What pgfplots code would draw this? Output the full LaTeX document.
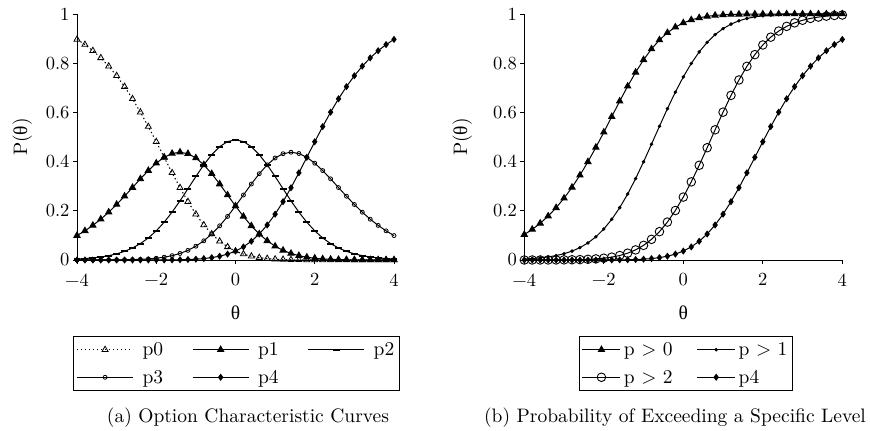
\documentclass[border=0pt]{standalone}
\usepackage{fontspec}
\setmainfont{lmroman10-regular.otf}
\newfontfamily\grk{Liberation Serif}
\usepackage{pgfplots}
\pgfplotsset{compat=1.18}
\usepackage{pgfplotstable}

\pgfplotstableread{
t p0 p1 p2 p3 p4 g0 g1 g2
-4.0 0.8966 0.0993 0.0041 0.0000 0.0000 0.1034 0.0041 0.0000
-3.8 0.8756 0.1185 0.0059 0.0001 0.0000 0.1244 0.0060 0.0001
-3.6 0.8507 0.1406 0.0086 0.0001 0.0000 0.1493 0.0087 0.0001
-3.4 0.8216 0.1659 0.0123 0.0002 0.0000 0.1784 0.0125 0.0002
-3.2 0.7878 0.1943 0.0176 0.0003 0.0000 0.2122 0.0180 0.0003
-3.0 0.7489 0.2256 0.0250 0.0006 0.0000 0.2511 0.0256 0.0006
-2.8 0.7047 0.2593 0.0351 0.0010 0.0000 0.2953 0.0361 0.0010
-2.6 0.6553 0.2944 0.0487 0.0016 0.0000 0.3447 0.0503 0.0016
-2.4 0.6009 0.3298 0.0666 0.0027 0.0000 0.3991 0.0693 0.0028
-2.2 0.5423 0.3635 0.0896 0.0045 0.0001 0.4577 0.0942 0.0045
-2.0 0.4806 0.3935 0.1185 0.0072 0.0002 0.5194 0.1259 0.0074
-1.8 0.4174 0.4174 0.1535 0.0114 0.0003 0.5826 0.1653 0.0117
-1.6 0.3544 0.4329 0.1945 0.0176 0.0006 0.6456 0.2127 0.0182
-1.4 0.2937 0.4381 0.2405 0.0266 0.0011 0.7063 0.2682 0.0277
-1.2 0.2371 0.4321 0.2896 0.0392 0.0020 0.7629 0.3308 0.0411
-1.0 0.1863 0.4147 0.3395 0.0561 0.0034 0.8137 0.3990 0.0595
-0.8 0.1423 0.3869 0.3869 0.0781 0.0058 0.8577 0.4708 0.0839
-0.6 0.1056 0.3507 0.4284 0.1056 0.0096 0.8944 0.5436 0.1152
-0.4 0.0762 0.3089 0.4608 0.1388 0.0154 0.9238 0.6150 0.1542
-0.2 0.0533 0.2642 0.4814 0.1771 0.0240 0.9467 0.6825 0.2011
0.0 0.0363 0.2195 0.4885 0.2195 0.0363 0.9637 0.7443 0.2558
0.2 0.0240 0.1771 0.4814 0.2642 0.0533 0.9760 0.7989 0.3175
0.4 0.0154 0.1388 0.4608 0.3089 0.0762 0.9846 0.8458 0.3850
0.6 0.0096 0.1056 0.4284 0.3507 0.1056 0.9904 0.8848 0.4564
0.8 0.0058 0.0781 0.3869 0.3869 0.1423 0.9942 0.9161 0.5292
1.0 0.0034 0.0561 0.3395 0.4147 0.1863 0.9966 0.9405 0.6010
1.2 0.0020 0.0392 0.2896 0.4321 0.2371 0.9980 0.9589 0.6692
1.4 0.0011 0.0266 0.2405 0.4381 0.2937 0.9989 0.9723 0.7318
1.6 0.0006 0.0176 0.1945 0.4329 0.3544 0.9994 0.9818 0.7873
1.8 0.0003 0.0114 0.1535 0.4174 0.4174 0.9997 0.9883 0.8348
2.0 0.0002 0.0072 0.1185 0.3935 0.4806 0.9998 0.9926 0.8741
2.2 0.0001 0.0045 0.0896 0.3635 0.5423 0.9999 0.9955 0.9058
2.4 0.0000 0.0027 0.0666 0.3298 0.6009 1.0000 0.9972 0.9307
2.6 0.0000 0.0016 0.0487 0.2944 0.6553 1.0000 0.9984 0.9497
2.8 0.0000 0.0010 0.0351 0.2593 0.7047 1.0000 0.9990 0.9640
3.0 0.0000 0.0006 0.0250 0.2256 0.7489 1.0000 0.9994 0.9745
3.2 0.0000 0.0003 0.0176 0.1943 0.7878 1.0000 0.9997 0.9821
3.4 0.0000 0.0002 0.0123 0.1659 0.8216 1.0000 0.9998 0.9875
3.6 0.0000 0.0001 0.0086 0.1406 0.8507 1.0000 0.9999 0.9913
3.8 0.0000 0.0001 0.0059 0.1185 0.8756 1.0000 0.9999 0.9941
4.0 0.0000 0.0000 0.0041 0.0993 0.8966 1.0000 1.0000 0.9959
}\data

\pgfplotsset{
  myax/.style={
    scale only axis, height=246bp,
    xmin=-4, xmax=4, ymin=0, ymax=1,
    axis x line=bottom, axis y line=left,
    axis line style={-, line width=0.9bp},
    tick align=outside, major tick length=4bp,
    tick style={black, line width=0.9bp},
    xtick={-4,-2,0,2,4}, xticklabels={−4,−2,0,2,4},
    ytick={0,0.2,0.4,0.6,0.8,1}, yticklabels={0,0.2,0.4,0.6,0.8,1},
    tick label style={font=\fontsize{18.5bp}{20bp}\selectfont},
    xticklabel style={yshift=-6bp},
    xlabel={{\grk θ}}, ylabel={P({\grk θ})},
    xlabel style={at={(axis description cs:0.5,-0.215)}, anchor=center},
    clip=false,
    every axis plot/.append style={line width=1bp, black},
    legend cell align=left,
    legend style={draw=black, line width=0.9bp, inner xsep=3bp, inner ysep=4bp,
      row sep=9bp},
  },
}

\begin{document}
\begin{tikzpicture}[font=\fontsize{19.5bp}{22bp}\selectfont]
\path[use as bounding box] (0,0) rectangle (870bp,431bp);

\begin{axis}[myax, width=317bp, at={(77bp,171bp)}, anchor=south west,
  ylabel style={at={(axis description cs:-0.173,0.5)}, anchor=center},
  legend columns=3,
  legend style={at={(0.503,-0.309)}, anchor=north, column sep=7bp},
  legend image code/.code={\draw[mark repeat=2,mark phase=2] plot coordinates {(0bp,0bp) (28bp,0bp) (56bp,0bp)};},
]
\addplot[dash pattern=on 1.4bp off 2.6bp, mark=triangle, mark size=3.5, mark options={solid, fill=white, line width=0.8bp}] table[x=t,y=p0] {\data};
\addlegendentry{p0\rule{20bp}{0pt}}
\addplot[mark=triangle*, mark size=3.5] table[x=t,y=p1] {\data};
\addlegendentry{p1\rule{20bp}{0pt}}
\addplot[mark=-, mark size=3.5, mark options={line width=2bp}] table[x=t,y=p2] {\data};
\addlegendentry{p2}
\addplot[mark=o, mark size=2, mark options={fill=white, line width=0.8bp}] table[x=t,y=p3] {\data};
\addlegendentry{p3\rule{20bp}{0pt}}
\addplot[mark=diamond*, mark size=2.8] table[x=t,y=p4] {\data};
\addlegendentry{p4\rule{20bp}{0pt}}
\end{axis}

\begin{axis}[myax, width=318bp, at={(524.3bp,171bp)}, anchor=south west,
  ylabel style={at={(axis description cs:-0.195,0.5)}, anchor=center},
  legend columns=2,
  legend style={at={(0.5075,-0.309)}, anchor=north, column sep=1bp},
  legend image code/.code={\draw[mark repeat=2,mark phase=2] plot coordinates {(0bp,0bp) (19bp,0bp) (38bp,0bp)};},
]
\addplot[mark=triangle*, mark size=3.5] table[x=t,y=g0] {\data};
\addlegendentry{p \textgreater{} 0\rule{21bp}{0pt}}
\addplot[mark=*, mark size=1.2] table[x=t,y=g1] {\data};
\addlegendentry{p \textgreater{} 1}
\addplot[mark=o, mark size=4.3, mark options={fill=white, line width=0.9bp}] table[x=t,y=g2] {\data};
\addlegendentry{p \textgreater{} 2\rule{21bp}{0pt}}
\addplot[mark=diamond*, mark size=2.8] table[x=t,y=p4] {\data};
\addlegendentry{p4}
\end{axis}

\node at (248bp,13bp) {(a) Option Characteristic Curves};
\node at (675bp,13bp) {(b) Probability of Exceeding a Specific Level};
\end{tikzpicture}
\end{document}
